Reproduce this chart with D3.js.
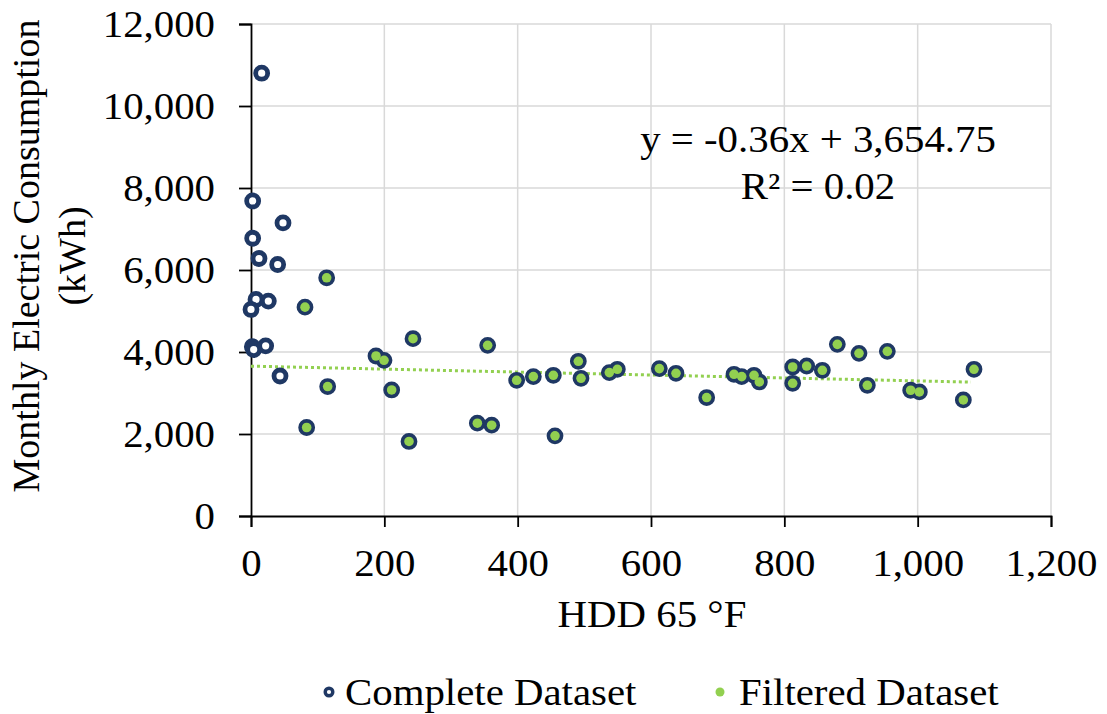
<!DOCTYPE html>
<html>
<head>
<meta charset="utf-8">
<script src="https://cdn.jsdelivr.net/npm/d3@7"></script>
<style>
  html, body { margin: 0; padding: 0; background: #fff; }
  svg { display: block; }
  text { font-family: "Liberation Serif", "Times New Roman", serif; fill: #000; }
</style>
</head>
<body>
<svg id="chart" width="1107" height="714"></svg>
<script>
// ---- Data ----
const filteredHDD = [81, 113.5, 83.5, 115, 187.5, 199.5, 211, 237, 243, 339.5, 355, 361, 398.5, 423.5, 453.5, 456, 491, 495, 537.5, 549.5, 612.5, 637.5, 683.5, 724.5, 736, 754.5, 762.5, 812.5, 812.5, 833.5, 857, 879.5, 912, 924.5, 954.5, 989.5, 1002.5, 1068.5, 1084.5];
const filteredKWh = [5094, 5810, 2159, 3157, 3902, 3797, 3074, 1818, 4325, 2264, 4162, 2215, 3310, 3400, 3432, 1955, 3773, 3359, 3497, 3578, 3595, 3481, 2889, 3456, 3400, 3432, 3269, 3634, 3237, 3658, 3554, 4187, 3967, 3188, 4016, 3067, 3026, 2831, 3578];
const excludedHDD = [16, 2.5, 48, 2.5, 12, 40, 7.5, 26, 0, 2, 4, 22, 43.5];
const excludedKWh = [10800, 7684, 7149, 6774, 6280, 6134, 5282, 5241, 5038, 4130, 4060, 4150, 3415];
const completeHDD = excludedHDD.concat(filteredHDD);
const completeKWh = excludedKWh.concat(filteredKWh);

const trendSlope = -0.36;
const trendIntercept = 3654.75;
const trendRange = [0, 1080];

const xTicks = [0, 200, 400, 600, 800, 1000, 1200];
const yTicks = [0, 2000, 4000, 6000, 8000, 10000, 12000];

const seriesNames = ["Complete Dataset", "Filtered Dataset"];
const equationText = "y = -0.36x + 3,654.75";
const r2Text = "R² = 0.02";
const xTitle = "HDD 65 °F";
const yTitleLines = ["Monthly Electric Consumption", "(kWh)"];

// ---- Layout ----
const navy = "#1F3864";
const green = "#92D050";
const grid = "#d9d9d9";
const fs = 38;
const sx = 1.075;

const svg = d3.select("#chart");
const x = d3.scaleLinear().domain([0, 1200]).range([251, 1051]);
const y = d3.scaleLinear().domain([0, 12000]).range([516, 24]);
const fmt = d3.format(",");

// widen a horizontal text around its anchor point
function widen(sel, ax, ay) {
  sel.attr("transform", `translate(${ax},${ay}) scale(${sx},1) translate(${-ax},${-ay})`);
}

// gridlines
svg.append("g").selectAll("line").data(yTicks.filter(d => d > 0)).join("line")
  .attr("x1", x(0)).attr("x2", x(1200))
  .attr("y1", d => y(d)).attr("y2", d => y(d))
  .attr("stroke", grid).attr("stroke-width", 1.5);
svg.append("g").selectAll("line").data(xTicks.filter(d => d > 0)).join("line")
  .attr("y1", y(0)).attr("y2", y(12000))
  .attr("x1", d => x(d)).attr("x2", d => x(d))
  .attr("stroke", grid).attr("stroke-width", 1.5);

// axes
const xAxis = svg.append("g").attr("transform", `translate(0,${y(0)})`)
  .call(d3.axisBottom(x).tickValues(xTicks).tickFormat(fmt).tickSize(11).tickPadding(22));
const yAxis = svg.append("g").attr("transform", `translate(${x(0)},0)`)
  .call(d3.axisLeft(y).tickValues(yTicks).tickFormat(fmt).tickSize(12).tickPadding(24));
[xAxis, yAxis].forEach(g => {
  g.selectAll("path").attr("stroke", "#000").attr("stroke-width", 1.8);
  g.selectAll("line").attr("stroke", "#000").attr("stroke-width", 1.8);
  g.selectAll("text").style("font-family", '"Liberation Serif", serif').style("font-size", fs + "px").attr("fill", "#000");
});
yAxis.selectAll("text").attr("dy", "0.34em").each(function () {
  const t = d3.select(this);
  widen(t, +t.attr("x"), 0);
});
xAxis.selectAll("text").each(function () {
  widen(d3.select(this), 0, 0);
});

// trendline
svg.append("line")
  .attr("x1", x(trendRange[0])).attr("y1", y(trendSlope * trendRange[0] + trendIntercept))
  .attr("x2", x(trendRange[1])).attr("y2", y(trendSlope * trendRange[1] + trendIntercept))
  .attr("stroke", green).attr("stroke-width", 3).attr("stroke-dasharray", "3,3");

// complete dataset
svg.append("g").selectAll("circle").data(completeHDD.map((d, i) => [d, completeKWh[i]])).join("circle")
  .attr("cx", d => x(d[0])).attr("cy", d => y(d[1])).attr("r", 6)
  .attr("fill", "#fff").attr("stroke", navy).attr("stroke-width", 4.8);

// filtered dataset
svg.append("g").selectAll("circle").data(filteredHDD.map((d, i) => [d, filteredKWh[i]])).join("circle")
  .attr("cx", d => x(d[0])).attr("cy", d => y(d[1])).attr("r", 4.8)
  .attr("fill", green);

// equation
const eq1 = svg.append("text").attr("x", 818).attr("y", 152).attr("text-anchor", "middle")
  .style("font-size", fs + "px").text(equationText);
widen(eq1, 818, 152);
const eq2 = svg.append("text").attr("x", 818).attr("y", 199).attr("text-anchor", "middle")
  .style("font-size", fs + "px").text(r2Text);
widen(eq2, 818, 199);

// axis titles
const xt = svg.append("text").attr("x", 652).attr("y", 627).attr("text-anchor", "middle")
  .style("font-size", fs + "px").text(xTitle);
widen(xt, 652, 627);
const yt = svg.append("text").attr("transform", "translate(39,256) rotate(-90)")
  .attr("text-anchor", "middle").style("font-size", fs + "px");
yTitleLines.forEach((t, i) => {
  yt.append("tspan").attr("x", 0).attr("y", i * 46).text(t);
});

// legend
const leg = svg.append("g");
leg.append("circle").attr("cx", 329).attr("cy", 692).attr("r", 3.8)
  .attr("fill", "#fff").attr("stroke", navy).attr("stroke-width", 3.4);
const l1 = leg.append("text").attr("x", 345).attr("y", 705).style("font-size", fs + "px").text(seriesNames[0]);
widen(l1, 345, 705);
leg.append("circle").attr("cx", 720).attr("cy", 692).attr("r", 4.5).attr("fill", green);
const l2 = leg.append("text").attr("x", 739).attr("y", 705).style("font-size", fs + "px").text(seriesNames[1]);
widen(l2, 739, 705);
</script>
</body>
</html>
